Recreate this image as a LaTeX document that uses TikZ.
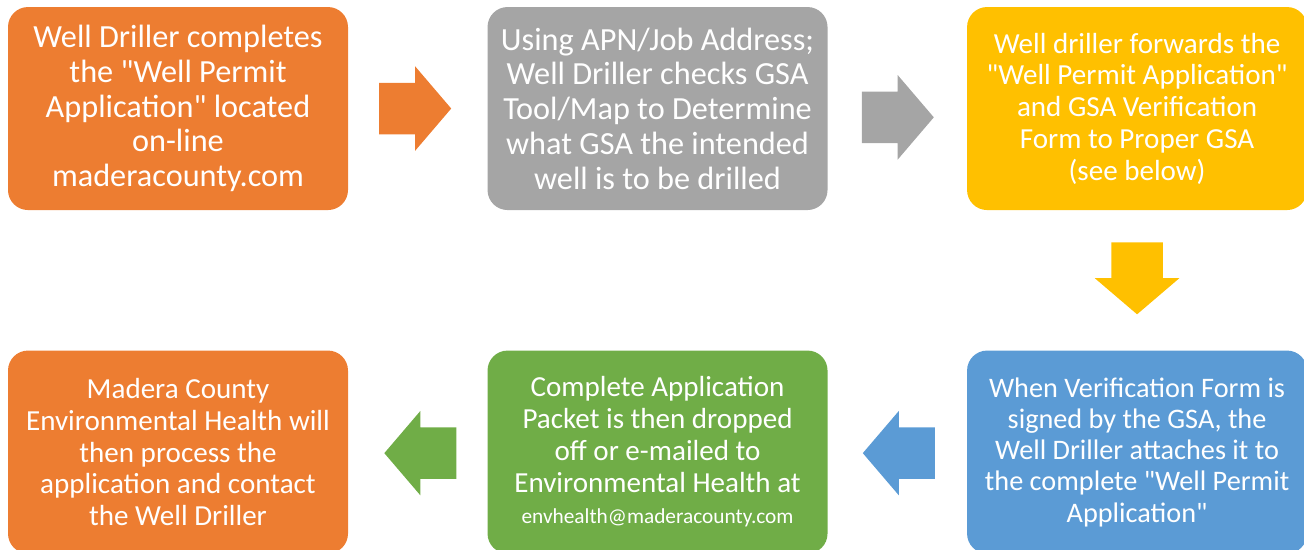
\documentclass[tikz,border=0pt]{standalone}
\usepackage{fontspec}
\setmainfont{Carlito}[Ligatures=TeXOff]
\usetikzlibrary{calc,shapes.arrows,positioning}
\definecolor{wellOrange}{HTML}{ED7D31}
\definecolor{wellGray}{HTML}{A5A5A5}
\definecolor{wellYellow}{HTML}{FFC000}
\definecolor{wellBlue}{HTML}{5B9BD5}
\definecolor{wellGreen}{HTML}{70AD47}
\tikzset{
stepbox/.style={
  rectangle,
  rounded corners=15pt,
  text=white,
  align=center,
  inner sep=0pt,
  minimum width=255pt,
  minimum height=152.25pt},
tallbox/.style={stepbox, font=\fontsize{24.2}{26.1}\selectfont},
flatbox/.style={stepbox, font=\fontsize{21.8}{23.8}\selectfont},
flow/.style={
  single arrow,
  draw=none,
  anchor=tail,
  inner xsep=0pt,
  inner ysep=19.1pt,
  outer sep=0pt,
  minimum height=54pt,
  minimum width=63pt,
  single arrow head extend=12.4pt,
  single arrow tip angle=99,
  single arrow head indent=0pt}
}
\begin{document}
\begin{tikzpicture}
    \useasboundingbox (0,0) rectangle (978pt,-412.5pt);
    \node [tallbox, fill=wellOrange] (apply) at (133.5pt,-81.4pt)
      {Well Driller completes\\the "Well Permit\\Application" located\\on-line\\maderacounty.com};
    \node [tallbox, fill=wellGray, right=104.25pt of apply] (check)
      {Using APN/Job Address;\\Well Driller checks GSA\\Tool/Map to Determine\\what GSA the intended\\well is to be drilled};
    \node [flatbox, fill=wellYellow, right=104.25pt of check] (forward)
      {Well driller forwards the\\"Well Permit Application"\\and GSA Verification\\Form to Proper GSA\\(see below)};
    \node [flatbox, fill=wellBlue, below=105pt of forward, font=\fontsize{21.2}{23.4}\selectfont] (attach)
      {When Verification Form is\\signed by the GSA, the\\Well Driller attaches it to\\the complete "Well Permit\\Application"};
    \node [flatbox, fill=wellGreen, left=104.25pt of attach] (packet)
      {Complete Application\\Packet is then dropped\\off or e-mailed to\\Environmental Health at\\{\fontsize{16}{20}\selectfont envhealth@maderacounty.com}};
    \node [flatbox, fill=wellOrange, left=104.25pt of packet] (process)
      {Madera County\\Environmental Health will\\then process the\\application and contact\\the Well Driller};
    % block arrows between the steps
    \node [flow, fill=wellOrange] (a1) at ($(apply.east)+(23.2pt,0)$) {};
    \node [flow, fill=wellGray] (a2) at ($(check.east)+(25.5pt,-6.6pt)$) {};
    \node [flow, fill=wellYellow, rotate=-90] (a3) at ($(forward.south)+(0,-24pt)$) {};
    \node [flow, fill=wellBlue, rotate=180] (a4) at ($(attach.west)+(-24pt,-0.8pt)$) {};
    \node [flow, fill=wellGreen, rotate=180] (a5) at ($(packet.west)+(-23.2pt,-0.8pt)$) {};
\end{tikzpicture}
\end{document}
